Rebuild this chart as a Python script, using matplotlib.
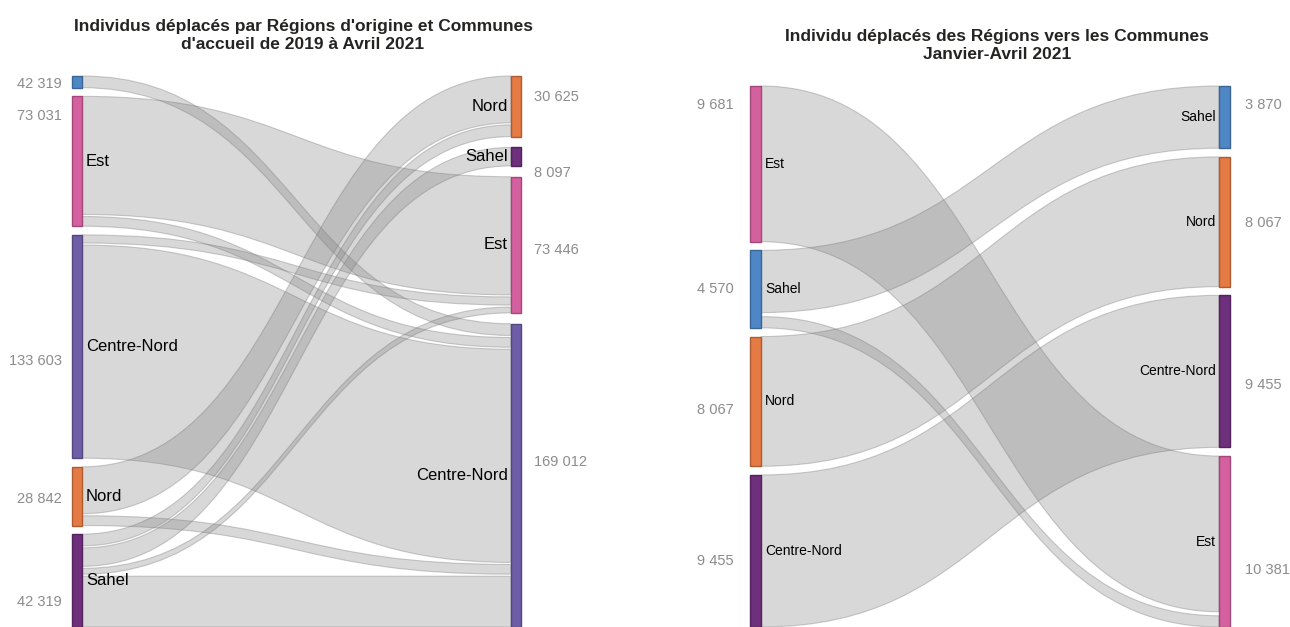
import matplotlib.pyplot as plt
from matplotlib.path import Path
from matplotlib.patches import PathPatch, Rectangle
from matplotlib.colors import to_rgb

# ---- left chart: 2019 - Avril 2021 ----
p1_sources = ['', 'Est', 'Centre-Nord', 'Nord', 'Sahel']
p1_targets = ['Nord', 'Sahel', 'Est', 'Centre-Nord']
p1_src_labels = ['42 319', '73 031', '133 603', '28 842', '42 319']
p1_tgt_labels = ['30 625', '8 097', '73 446', '169 012']
p1_flows = [
    ('', 'Centre-Nord', 6600),
    ('Est', 'Est', 66500),
    ('Est', 'Centre-Nord', 5500),
    ('Centre-Nord', 'Est', 4600),
    ('Centre-Nord', 'Centre-Nord', 120000),
    ('Nord', 'Nord', 26400),
    ('Nord', 'Centre-Nord', 5500),
    ('Sahel', 'Nord', 6600),
    ('Sahel', 'Sahel', 10400),
    ('Sahel', 'Est', 3300),
    ('Sahel', 'Centre-Nord', 28600),
]

# ---- right chart: Janvier - Avril 2021 ----
p2_sources = ['Est', 'Sahel', 'Nord', 'Centre-Nord']
p2_targets = ['Sahel', 'Nord', 'Centre-Nord', 'Est']
p2_src_labels = ['9 681', '4 570', '8 067', '9 455']
p2_tgt_labels = ['3 870', '8 067', '9 455', '10 381']
p2_flows = [
    ('Est', 'Est', 9681),
    ('Sahel', 'Sahel', 3870),
    ('Sahel', 'Est', 700),
    ('Nord', 'Nord', 8067),
    ('Centre-Nord', 'Centre-Nord', 9455),
]

PINK, BLUE, LAV, ORANGE, PLUM = '#D5609F', '#4F86C6', '#6E5EA8', '#E57A44', '#6E2F7C'

TXT_FONT = ['Liberation Sans', 'DejaVu Sans']
NUM_FONT = ['Liberation Sans', 'DejaVu Sans']
TITLE_FONT = ['Liberation Sans', 'DejaVu Sans']


def darker(c, f=0.75):
    r, g, b = to_rgb(c)
    return (r * f, g * f, b * f)


def layout(names, flows, key, order_key, top, bottom, scale, pad):
    # stack nodes of one column, return node extents and per-flow band extents
    totals = {n: sum(f[2] for f in flows if f[key] == n) for n in names}
    counts = {n: sum(1 for f in flows if f[key] == n) for n in names}
    used = sum(totals.values()) * scale + sum((counts[n] - 1) * pad for n in names)
    gap = (bottom - top - used) / (len(names) - 1)
    nodes, bands = {}, {}
    y = top
    for n in names:
        h = totals[n] * scale + (counts[n] - 1) * pad
        nodes[n] = (y, y + h)
        yy = y
        mine = sorted([f for f in flows if f[key] == n], key=order_key)
        for f in mine:
            bands[(f[0], f[1])] = (yy, yy + f[2] * scale)
            yy += f[2] * scale + pad
        y += h + gap
    return nodes, bands


def sankey(ax, sources, targets, flows, src_colors, tgt_colors,
           src_labels, tgt_labels, src_dy, tgt_dy, x0, x1, w, top, bottom,
           pad, name_size, num_x0, num_x1):
    total = sum(f[2] for f in flows)
    n_pad_s = sum(sum(1 for f in flows if f[0] == n) - 1 for n in sources)
    n_pad_t = sum(sum(1 for f in flows if f[1] == n) - 1 for n in targets)
    avail = bottom - top - 6.5 * max(len(sources), len(targets)) - pad * max(n_pad_s, n_pad_t)
    scale = avail / total

    s_nodes, s_bands = layout(sources, flows, 0, lambda f: targets.index(f[1]),
                              top, bottom, scale, pad)
    t_nodes, t_bands = layout(targets, flows, 1, lambda f: sources.index(f[0]),
                              top, bottom, scale, pad)

    xa, xb = x0 + w, x1
    xm = (xa + xb) / 2
    for s, t, v in flows:
        a0, a1 = s_bands[(s, t)]
        b0, b1 = t_bands[(s, t)]
        verts = [(xa, a0), (xm, a0), (xm, b0), (xb, b0), (xb, b1),
                 (xm, b1), (xm, a1), (xa, a1), (xa, a0)]
        codes = [Path.MOVETO, Path.CURVE4, Path.CURVE4, Path.CURVE4, Path.LINETO,
                 Path.CURVE4, Path.CURVE4, Path.CURVE4, Path.CLOSEPOLY]
        ax.add_patch(PathPatch(Path(verts, codes), facecolor=(0.5, 0.5, 0.5, 0.3),
                               edgecolor=(0.45, 0.45, 0.45, 0.35), lw=0.8, zorder=1))

    for i, n in enumerate(sources):
        y0, y1 = s_nodes[n]
        ax.add_patch(Rectangle((x0, y0), w, y1 - y0, facecolor=src_colors[i],
                               edgecolor=darker(src_colors[i]), lw=1, zorder=3))
        if n:
            ax.text(x0 + w + 4, (y0 + y1) / 2, n, ha='left', va='center',
                    fontsize=name_size, family=TXT_FONT, color='black', zorder=4)
        ax.text(num_x0, (y0 + y1) / 2 + src_dy[i], src_labels[i], ha='right',
                va='center', fontsize=10.5, family=NUM_FONT, color='#8c8c8c')

    for i, n in enumerate(targets):
        y0, y1 = t_nodes[n]
        ax.add_patch(Rectangle((x1, y0), w, y1 - y0, facecolor=tgt_colors[i],
                               edgecolor=darker(tgt_colors[i]), lw=1, zorder=3))
        ax.text(x1 - 3, (y0 + y1) / 2, n, ha='right', va='center',
                fontsize=name_size, family=TXT_FONT, color='black', zorder=4)
        ax.text(num_x1, (y0 + y1) / 2 + tgt_dy[i], tgt_labels[i], ha='left',
                va='center', fontsize=10.5, family=NUM_FONT, color='#8c8c8c')


fig = plt.figure(figsize=(12.9, 6.27), dpi=100)
ax = fig.add_axes([0, 0, 1, 1])
ax.set_xlim(0, 1290)
ax.set_ylim(627, 0)
ax.axis('off')

sankey(ax, p1_sources, p1_targets, p1_flows,
       [BLUE, PINK, LAV, ORANGE, PLUM], [ORANGE, PLUM, PINK, LAV],
       p1_src_labels, p1_tgt_labels,
       [2, -45, 14, 3, 21], [-9, 16, 5, -13],
       x0=72, x1=511, w=10, top=76, bottom=627, pad=2, name_size=12,
       num_x0=62, num_x1=534)

sankey(ax, p2_sources, p2_targets, p2_flows,
       [PINK, BLUE, ORANGE, PLUM], [BLUE, ORANGE, PLUM, PINK],
       p2_src_labels, p2_tgt_labels,
       [-59, 0, 9, 10], [-12, 1, 14, 28],
       x0=750, x1=1219, w=11, top=86, bottom=627, pad=4, name_size=10,
       num_x0=734, num_x1=1245)

ax.text(303, 19, "Individus déplacés par Régions d'origine et Communes\nd'accueil de 2019 à Avril 2021",
        ha='center', va='top', fontsize=12.5, fontweight='bold', family=TITLE_FONT,
        color='#252423', linespacing=1.25)
ax.text(997, 29, "Individu déplacés des Régions vers les Communes\nJanvier-Avril 2021",
        ha='center', va='top', fontsize=12.5, fontweight='bold', family=TITLE_FONT,
        color='#252423', linespacing=1.25)

fig.savefig('out.png', dpi=100)
